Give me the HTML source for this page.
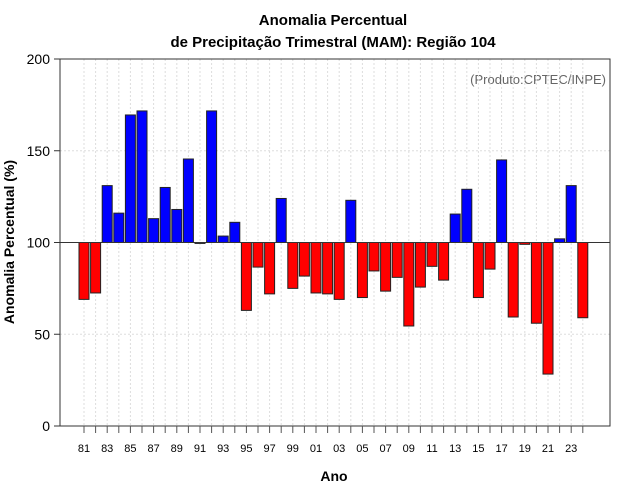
<!DOCTYPE html>
<html><head><meta charset="utf-8"><style>body{margin:0;background:#fff}svg{display:block;font-family:"Liberation Sans",sans-serif}</style></head>
<body>
<svg id="c" width="640" height="500">
<text x="333" y="25" text-anchor="middle" font-size="15" font-weight="bold">Anomalia Percentual</text>
<text x="333" y="47" text-anchor="middle" font-size="15" font-weight="bold">de Precipitação Trimestral (MAM): Região 104</text>
<text x="606" y="84" text-anchor="end" font-size="13" fill="#666">(Produto:CPTEC/INPE)</text>
<text x="334" y="481" text-anchor="middle" font-size="14" font-weight="bold">Ano</text>
<text transform="translate(14,242) rotate(-90)" text-anchor="middle" font-size="14" font-weight="bold">Anomalia Percentual (%)</text>
<g id="grid"></g><g id="bars"></g><g id="axes"></g>
</svg>
<script>
const years=[1981,1982,1983,1984,1985,1986,1987,1988,1989,1990,1991,1992,1993,1994,1995,1996,1997,1998,1999,2000,2001,2002,2003,2004,2005,2006,2007,2008,2009,2010,2011,2012,2013,2014,2015,2016,2017,2018,2019,2020,2021,2022,2023,2024];
const values=[69,72.5,131,116,169.5,171.7,113,130,118,145.5,99.5,171.7,103.5,111,63,86.6,72,124,75,81.7,72.5,72,69,123,70,84.5,73.5,81,54.5,75.7,87,79.5,115.5,129,70,85.5,145,59.4,99,56,28.3,102,131,59];
const yTicks=[0,50,100,150,200];
const NS='http://www.w3.org/2000/svg';
const L=60,R=610,T=59,B=426;
const y=v=>B-(v/200)*(B-T);
const x=i=>84+i*11.6;
function mk(tag,at,par){const e=document.createElementNS(NS,tag);for(const k in at)e.setAttribute(k,at[k]);document.getElementById(par).appendChild(e);return e;}
years.forEach((yr,i)=>{const g=mk('line',{x1:x(i),x2:x(i),y1:T,y2:B,stroke:'#ddd','stroke-dasharray':'2,2'},'grid');

});
[50,150].forEach(v=>{const g=mk('line',{x1:L,x2:R,y1:y(v),y2:y(v),stroke:'#ddd','stroke-dasharray':'2,2'},'grid');

});
values.forEach((v,i)=>{const top=Math.min(y(v),y(100)),h=Math.max(Math.abs(y(v)-y(100)),0.8);
const b=mk('rect',{x:x(i)-5,y:top,width:10,height:h,fill:v>=100?'#0000ff':'#ff0000',stroke:'#222','stroke-width':1},'bars');

});
const ref=mk('line',{x1:L,x2:R,y1:y(100),y2:y(100),stroke:'#333','stroke-width':1},'axes');


const fr=mk('rect',{x:L,y:T,width:R-L,height:B-T,fill:'none',stroke:'#333','stroke-width':1},'axes');


yTicks.forEach(v=>{mk('line',{x1:L-6,x2:L,y1:y(v),y2:y(v),stroke:'#333'},'axes');
const t=mk('text',{x:L-10,y:y(v)+5,'text-anchor':'end','font-size':14},'axes');t.textContent=v;

});
years.forEach((yr,i)=>{mk('line',{x1:x(i),x2:x(i),y1:B,y2:B+7,stroke:'#555'},'axes');
if(i%2==0){const t=mk('text',{x:x(i),y:452,'text-anchor':'middle','font-size':11},'axes');t.textContent=String(yr).slice(2);

}});
</script>
</body></html>
